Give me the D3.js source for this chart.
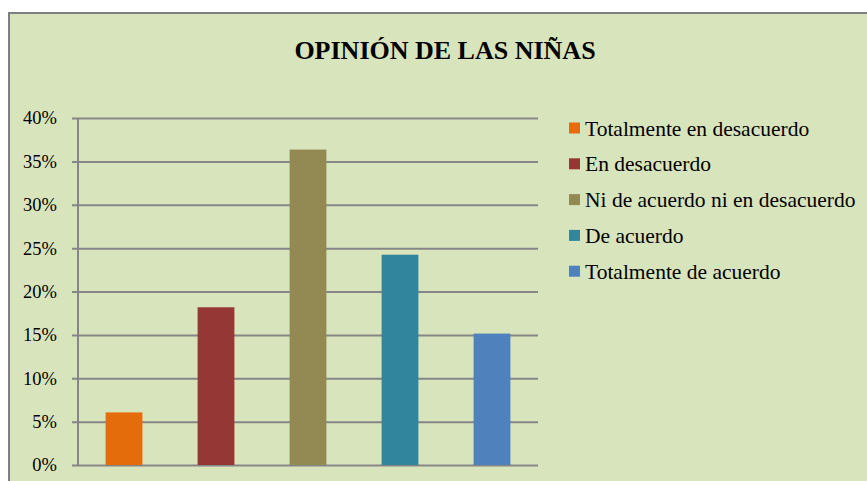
<!doctype html>
<html lang="es">
<head>
<meta charset="UTF-8">
<script src="https://cdnjs.cloudflare.com/ajax/libs/d3/7.8.5/d3.min.js"></script>
<title>Opinión de las niñas</title>
<style>
  body { margin: 0; background: #fff; }
</style>
</head>
<body>
<div id="chart"></div>
<script>
    // datos
    const categorias = ["Totalmente en desacuerdo", "En desacuerdo", "Ni de acuerdo ni en desacuerdo", "De acuerdo", "Totalmente de acuerdo"];
    const valores = [0.0606, 0.1818, 0.3636, 0.2424, 0.1515];
    const colores = ["#e46c0a", "#953735", "#938953", "#31859c", "#4f81bd"];
    const ticks = [0, 0.05, 0.10, 0.15, 0.20, 0.25, 0.30, 0.35, 0.40];

    const W = 867, H = 481;
    const plot = {left: 78, right: 538, top: 118, bottom: 465};
    const fuente = "Liberation Serif";

    const svg = d3.select("#chart").append("svg")
        .attr("width", W)
        .attr("height", H);

    // fondo del grafico
    svg.append("rect")
        .attr("x", 9).attr("y", 13)
        .attr("width", W).attr("height", H)
        .attr("fill", "#d8e4bc")
        .attr("stroke", "#7f7f7f")
        .attr("stroke-width", 2);

    svg.append("text")
        .attr("x", 445).attr("y", 59)
        .attr("text-anchor", "middle")
        .attr("font-family", fuente)
        .attr("font-size", 26)
        .attr("font-weight", "bold")
        .text("OPINIÓN DE LAS NIÑAS");

    const x = d3.scaleBand()
        .domain(categorias)
        .range([plot.left, plot.right])
        .paddingInner(0.6)
        .paddingOuter(0.3);

    const y = d3.scaleLinear()
        .domain([0, 0.4])
        .range([plot.bottom, plot.top]);

    // lineas de division y etiquetas
    const yAxis = svg.append("g")
        .attr("transform", `translate(${plot.left},0)`)
        .call(d3.axisLeft(y)
            .tickValues(ticks)
            .tickFormat(d3.format(".0%"))
            .tickSize(-(plot.right - plot.left))
            .tickPadding(20));
    yAxis.select(".domain").remove();
    yAxis.selectAll(".tick line")
        .attr("x1", -6)
        .attr("stroke", "#868686")
        .attr("stroke-width", 2);
    yAxis.selectAll(".tick text")
        .attr("font-family", fuente)
        .attr("font-size", 18.5)
        .attr("x", -21)
        .attr("fill", "#000");

    svg.append("line")
        .attr("x1", plot.left).attr("x2", plot.left)
        .attr("y1", plot.top).attr("y2", plot.bottom)
        .attr("stroke", "#868686")
        .attr("stroke-width", 2);

    svg.selectAll("rect.bar")
        .data(valores)
        .join("rect")
        .attr("class", "bar")
        .attr("x", (d, i) => x(categorias[i]))
        .attr("width", x.bandwidth())
        .attr("y", d => y(d))
        .attr("height", d => y(0) - y(d))
        .attr("fill", (d, i) => colores[i]);

    // leyenda
    const leyenda = svg.append("g")
        .attr("transform", "translate(569,128)");
    const item = leyenda.selectAll("g")
        .data(categorias)
        .join("g")
        .attr("transform", (d, i) => `translate(0,${i * 35.8})`);
    item.append("rect")
        .attr("x", 0).attr("y", -5.5)
        .attr("width", 11).attr("height", 11)
        .attr("fill", (d, i) => colores[i]);
    item.append("text")
        .attr("x", 16)
        .attr("dy", "0.35em")
        .attr("font-family", fuente)
        .attr("font-size", 21.5)
        .text(d => d);
</script>
</body>
</html>
